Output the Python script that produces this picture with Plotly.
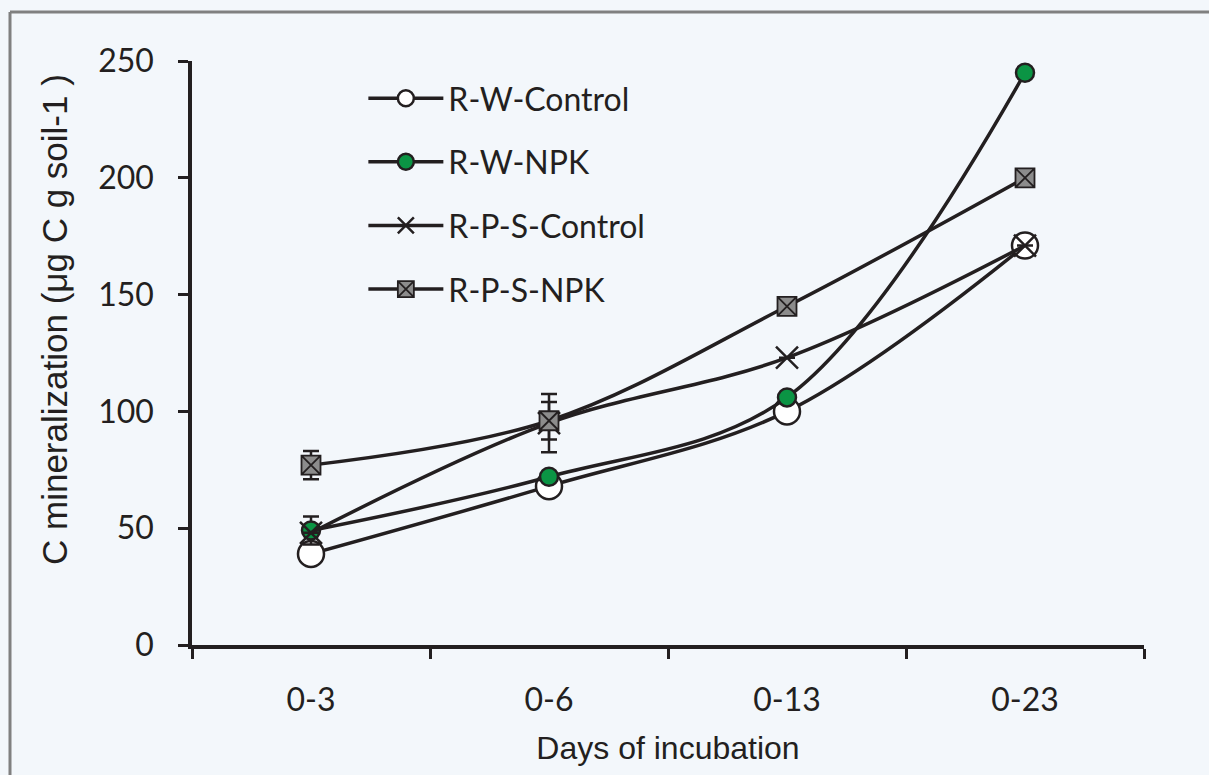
import plotly.graph_objects as go

categories = ["0-3", "0-6", "0-13", "0-23"]
rw_control = [39, 68, 100, 171]
rw_npk = [49, 72, 106, 245]
rps_control = [48, 95, 123, 171]
rps_npk = [77, 96, 145, 200]
rw_npk_err = [6, None, None, None]
rps_control_err = [None, 12.5, None, None]
rps_npk_err = [6, 8, None, None]

FONT = "Lato"
TFONT = "Liberation Sans"
LINE = "#231f20"
fig = go.Figure()

def err(arr):
    return dict(type="data", array=arr, visible=True, color=LINE, thickness=2.5, width=8)

fig.add_trace(go.Scatter(
    x=categories, y=rw_control, name="R-W-Control", mode="lines+markers",
    line=dict(color=LINE, width=3.5, shape="spline", smoothing=1),
    marker=dict(symbol="circle", size=26, color="white", line=dict(color=LINE, width=2.5)),
    legendgroup="a"))
fig.add_trace(go.Scatter(
    x=categories, y=rw_npk, name="R-W-NPK", mode="lines+markers",
    line=dict(color=LINE, width=3.5, shape="spline", smoothing=1),
    marker=dict(symbol="circle", size=18, color="#0b9444", line=dict(color=LINE, width=2.5)),
    error_y=err(rw_npk_err), legendgroup="b"))
fig.add_trace(go.Scatter(
    x=categories, y=rps_control, name="R-P-S-Control", mode="lines+markers",
    line=dict(color=LINE, width=3.5, shape="spline", smoothing=1),
    marker=dict(symbol="x-thin", size=22, color=LINE, line=dict(color=LINE, width=2.5)),
    error_y=err(rps_control_err), legendgroup="c"))
fig.add_trace(go.Scatter(
    x=categories, y=rps_npk, name="R-P-S-NPK", mode="lines+markers",
    line=dict(color=LINE, width=3.5, shape="spline", smoothing=1),
    marker=dict(symbol="square-x", size=19, color="#8c8c8c", line=dict(color=LINE, width=1.8)),
    error_y=err(rps_npk_err), legendgroup="d"))

bx = (10 - 192) / 952
by = (645 - 12) / 584
fig.update_layout(
    width=1209, height=775,
    margin=dict(l=192, r=65, t=61, b=130, autoexpand=False),
    paper_bgcolor="#f3f7fb", plot_bgcolor="rgba(0,0,0,0)",
    font=dict(family=FONT, size=32, color="#231f20"),
    showlegend=True,
    legend=dict(x=0.18, y=0.983, xanchor="left", yanchor="top", bgcolor="rgba(0,0,0,0)",
                tracegroupgap=19, font=dict(size=32), itemwidth=75),
    xaxis=dict(type="category", range=[-0.5, 3.5], tickson="boundaries", automargin=False,
               ticks="outside", ticklen=10, tickwidth=2.5, tickcolor=LINE,
               showline=True, linecolor=LINE, linewidth=3.5, showgrid=False, zeroline=False,
               ticklabelstandoff=24,
               title=dict(text="Days of incubation", standoff=20,
                          font=dict(family=TFONT, size=32))),
    yaxis=dict(range=[0, 250], tickvals=[0, 50, 100, 150, 200, 250], automargin=False,
               ticks="outside", ticklen=10, tickwidth=2.5, tickcolor=LINE,
               showline=True, linecolor=LINE, linewidth=3.5, showgrid=False, zeroline=False,
               ticklabelstandoff=18),
    annotations=[dict(text="C mineralization (μg C g soil-1 )", xref="paper", yref="paper",
                      x=(54 - 192) / 952, y=(645 - 320) / 584, xanchor="center", yanchor="middle",
                      textangle=-90, showarrow=False,
                      font=dict(family=TFONT, size=35, color="#231f20"))],
    shapes=[
        dict(type="line", xref="paper", yref="paper", x0=bx, x1=1.2, y0=by, y1=by,
             line=dict(color="#808080", width=3), layer="below"),
        dict(type="line", xref="paper", yref="paper", x0=bx, x1=bx, y0=by, y1=-0.4,
             line=dict(color="#808080", width=3), layer="below"),
    ],
)

fig.write_html("out.html", config={"displayModeBar": False},
               post_script="document.body.style.margin='0';"
                           "document.documentElement.style.overflow='hidden';")
